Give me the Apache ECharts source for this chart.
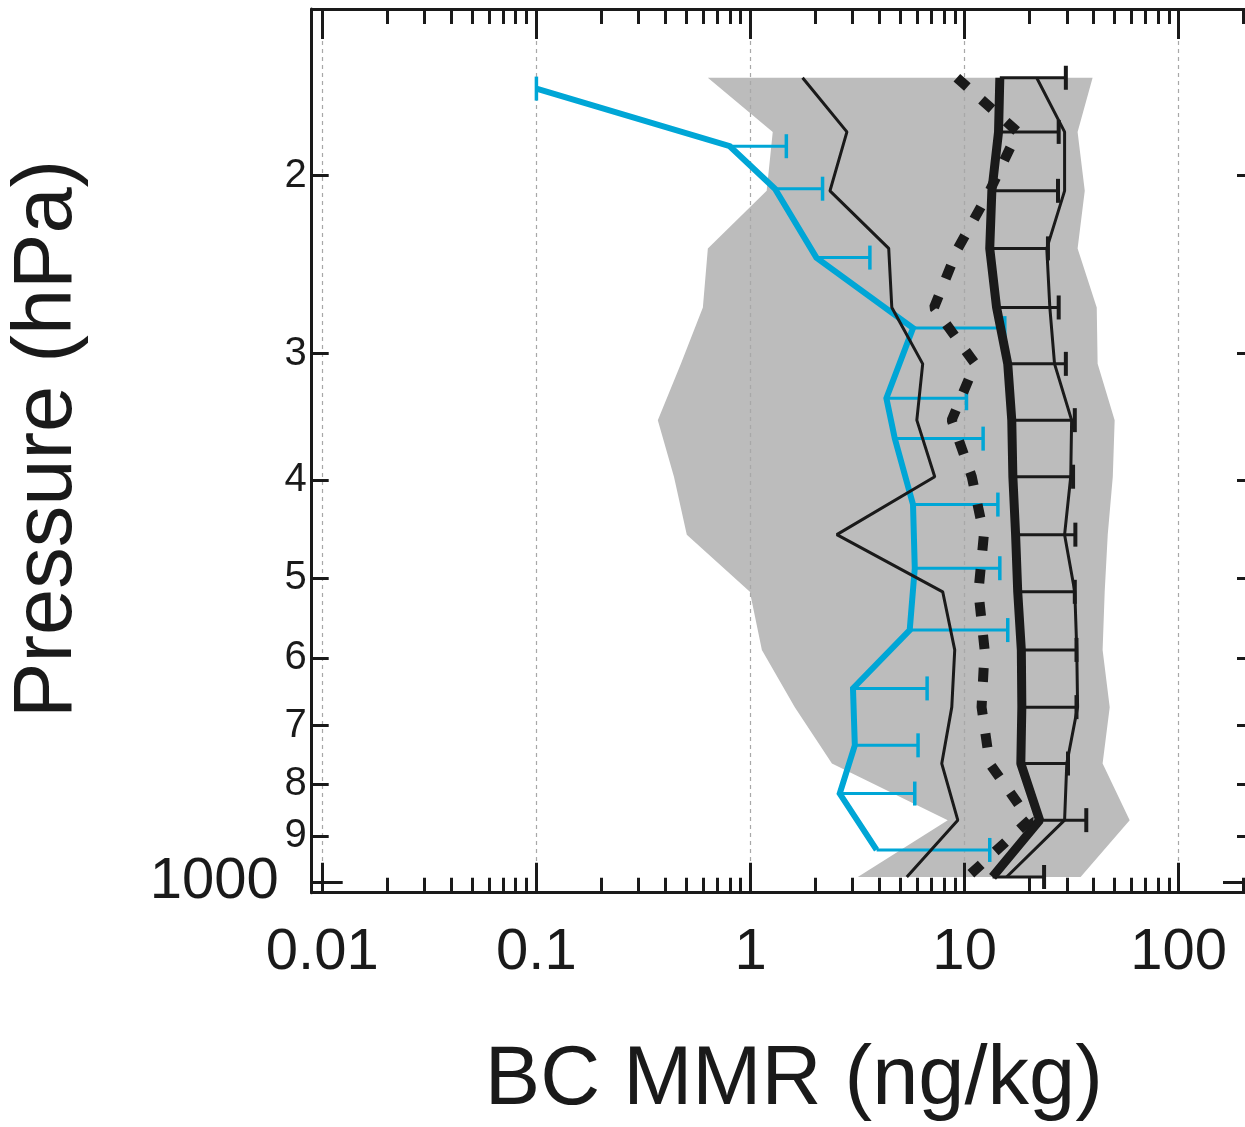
<!DOCTYPE html>
<html>
<head>
<meta charset="utf-8">
<script src="https://cdn.jsdelivr.net/npm/echarts@6/dist/echarts.min.js"></script>
<style>html,body{margin:0;padding:0;background:#fff}#c{width:1245px;height:1127px}</style>
</head>
<body>
<div id="c"></div>
<script>
// ---- Model profiles on pressure levels (hPa) ----
const levels      = [160, 181, 207, 236, 270, 307, 349, 397, 453, 516, 589, 671, 763, 868, 988];
const thickMean   = [14.6, 14.4, 13.4, 13.1, 14.1, 15.9, 16.6, 16.8, 17.3, 17.7, 18.4, 18.5, 18.3, 22.4, 13.5];
const thickErrHi  = [29.7, 27.5, 27.3, 24.5, 27.5, 29.7, 32.7, 32.1, 32.9, 32.7, 33.3, 33.3, 30.4, 37.0, 23.5];
const dottedMean  = [9.2, 17.7, 13.1, 9.3, 7.2, 11.2, 8.7, 10.8, 12.3, 11.6, 12.4, 12.0, 13.1, 20.1, 10.3];
const thinLeft    = [1.75, 2.82, 2.35, 4.42, 4.57, 6.37, 5.98, 7.25, 2.53, 7.90, 8.99, 8.71, 7.82, 9.29, 5.37];
const thinRight   = [21.7, 29.3, 29.3, 24.2, 25.0, 26.3, 31.6, 31.3, 29.3, 32.7, 33.4, 33.7, 30.0, 29.3, 15.7];
const envLow      = [0.632, 1.27, 1.19, 0.632, 0.599, 0.473, 0.369, 0.439, 0.504, 0.993, 1.13, 1.61, 2.40, 8.34, 3.17];
const envHigh     = [39.6, 33.7, 36.4, 33.7, 41.4, 41.8, 50.2, 49.2, 46.6, 45.1, 44.1, 47.6, 44.1, 59.0, 34.8];
// ---- Observations ----
const obsLevels   = [164, 187, 206, 241, 283, 332, 364, 423, 489, 563, 643, 732, 817, 929];
const obsMean     = [0.100, 0.80, 1.30, 2.03, 5.74, 4.31, 4.72, 5.74, 5.85, 5.54, 3.01, 3.07, 2.61, 3.88];
const obsErrHi    = [0.100, 1.47, 2.17, 3.61, 15.4, 10.2, 12.2, 14.3, 14.6, 15.9, 6.68, 6.06, 5.85, 13.1];
// ---- Ticks ----
const xTickValues = [0.01, 0.1, 1, 10, 100];
const xTickLabels = ['0.01', '0.1', '1', '10', '100'];
const xMinorTicks = [0.02,0.03,0.04,0.05,0.06,0.07,0.08,0.09, 0.2,0.3,0.4,0.5,0.6,0.7,0.8,0.9,
                     2,3,4,5,6,7,8,9, 20,30,40,50,60,70,80,90, 200];
const yTickValues = [200, 300, 400, 500, 600, 700, 800, 900, 1000];
const yTickLabels = ['2', '3', '4', '5', '6', '7', '8', '9', '1000'];
const yMajorTicks = [1000];
const yMinorTicks = [200, 300, 400, 500, 600, 700, 800, 900];

const L = Math.log10;
const X_MIN = -2.0495, X_MAX = 2.3515, Y_MIN = 2.1361, Y_MAX = 3.0103;
const INK = '#1a1a1a', BLUE = '#00a6d6', GRAY = '#bcbcbc';
const FONT = "'Liberation Sans', Arial, sans-serif";

function lookup(vals, labels, v) {
  for (let i = 0; i < vals.length; i++) if (Math.abs(L(vals[i]) - v) < 1e-6) return labels[i];
  return '';
}

function xAxisCfg(pos, major, extra) {
  return Object.assign({
    type: 'value', position: pos, min: X_MIN, max: X_MAX, offset: 0,
    axisLine: { show: major, onZero: false, lineStyle: { color: INK, width: 3 } },
    axisTick: { show: true, inside: true, length: major ? 30 : 15,
      lineStyle: { color: INK, width: 3 },
      customValues: (major ? xTickValues : xMinorTicks).map(L) },
    axisLabel: { show: false },
    splitLine: { show: false }
  }, extra || {});
}
function yAxisCfg(pos, major, extra) {
  return Object.assign({
    type: 'value', position: pos, min: Y_MIN, max: Y_MAX, inverse: true, offset: 0,
    axisLine: { show: major, onZero: false, lineStyle: { color: INK, width: 3 } },
    axisTick: { show: true, inside: true, length: major ? 31 : 17,
      lineStyle: { color: INK, width: 3 },
      customValues: (major ? yMajorTicks : yMinorTicks).map(L) },
    axisLabel: { show: false },
    splitLine: { show: false }
  }, extra || {});
}

function lineSeries(lv, vals, style, z) {
  return {
    type: 'line', xAxisIndex: 0, yAxisIndex: 0, z: z, silent: true,
    symbol: 'none', showSymbol: false, animation: false,
    data: lv.map((p, i) => [L(vals[i]), L(p)]),
    lineStyle: style
  };
}
function errorBars(lv, mean, hi, color, capW, z) {
  return {
    type: 'custom', xAxisIndex: 0, yAxisIndex: 0, z: z, silent: true, animation: false,
    data: lv.map((p, i) => [L(mean[i]), L(hi[i]), L(p)]),
    encode: { x: [0, 1], y: 2 },
    renderItem: function (params, api) {
      const a = api.coord([api.value(0), api.value(2)]);
      const b = api.coord([api.value(1), api.value(2)]);
      const h = 12;
      return { type: 'group', children: [
        { type: 'line', shape: { x1: a[0], y1: a[1], x2: b[0], y2: b[1] }, style: { stroke: color, lineWidth: 3 } },
        { type: 'line', shape: { x1: b[0], y1: b[1] - h, x2: b[0], y2: b[1] + h }, style: { stroke: color, lineWidth: capW } }
      ] };
    }
  };
}

const chart = echarts.init(document.getElementById('c'), null, { renderer: 'canvas' });
chart.setOption({
  animation: false,
  backgroundColor: '#ffffff',
  grid: { left: 311.7, top: 9, width: 942.3, height: 883.7, containLabel: false, outerBoundsMode: 'none' },
  xAxis: [
    xAxisCfg('bottom', true, {
      splitLine: { show: true, lineStyle: { color: '#a8a8a8', width: 1.2, type: [4, 4] } },
      axisLabel: { show: true, customValues: xTickValues.map(L), margin: 31,
        fontSize: 58, color: INK, fontFamily: FONT,
        formatter: v => lookup(xTickValues, xTickLabels, v) },
      name: 'BC MMR (ng/kg)', nameLocation: 'middle', nameGap: 147,
      nameTextStyle: { fontSize: 83, color: INK, fontFamily: FONT, padding: [0, 0, 0, 22] }
    }),
    xAxisCfg('bottom', false),
    xAxisCfg('top', true),
    xAxisCfg('top', false)
  ],
  yAxis: [
    yAxisCfg('left', true, {
      axisLabel: { show: true, customValues: yTickValues.map(L), margin: 5,
        fontSize: 40, color: INK, fontFamily: FONT,
        formatter: v => { const s = lookup(yTickValues, yTickLabels, v); return s.length > 2 ? '{b|' + s + '}' : s; },
        rich: { b: { fontSize: 58, color: INK, fontFamily: FONT, padding: [0, 28, 0, 0] } } },
      name: 'Pressure (hPa)', nameLocation: 'middle', nameGap: 222,
      nameTextStyle: { fontSize: 83, color: INK, fontFamily: FONT, padding: [0, 0, 0, 24] }
    }),
    yAxisCfg('left', false),
    yAxisCfg('right', true),
    yAxisCfg('right', false)
  ],
  series: [
    {
      type: 'custom', xAxisIndex: 0, yAxisIndex: 0, z: -1, silent: true, animation: false,
      data: levels.map((p, i) => [L(envLow[i]), L(envHigh[i]), L(p)]),
      encode: { x: [0, 1], y: 2 },
      renderItem: function (params, api) {
        if (params.dataIndex !== 0) return null;
        const pts = [];
        for (let i = 0; i < levels.length; i++) pts.push(api.coord([L(envLow[i]), L(levels[i])]));
        for (let i = levels.length - 1; i >= 0; i--) pts.push(api.coord([L(envHigh[i]), L(levels[i])]));
        return { type: 'polygon', shape: { points: pts }, style: { fill: GRAY } };
      }
    },
    errorBars(obsLevels, obsMean, obsErrHi, BLUE, 3.5, 2),
    lineSeries(obsLevels, obsMean, { color: BLUE, width: 6, join: 'miter' }, 2),
    lineSeries(levels, thinLeft, { color: INK, width: 3 }, 3),
    lineSeries(levels, thinRight, { color: INK, width: 3 }, 3),
    errorBars(levels, thickMean, thickErrHi, INK, 4, 4),
    lineSeries(levels, thickMean, { color: INK, width: 9 }, 4),
    lineSeries(levels, dottedMean, { color: INK, width: 10, type: [14, 19], cap: 'butt' }, 5)
  ]
});
</script>
</body>
</html>
